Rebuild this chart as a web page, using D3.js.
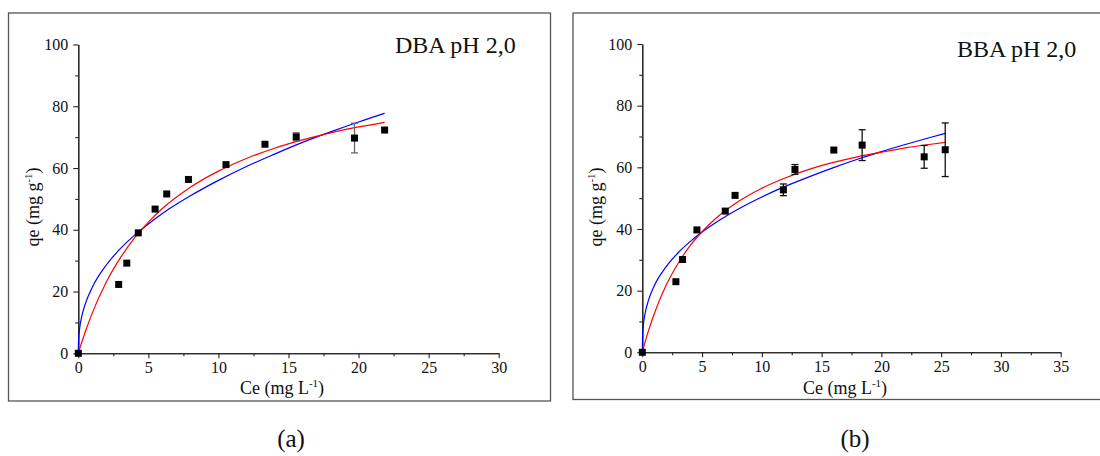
<!DOCTYPE html>
<html>
<head>
<meta charset="utf-8">
<script src="https://cdn.jsdelivr.net/npm/d3@7"></script>
<style>
  body { margin: 0; background: #fff; }
  text { font-family: "Liberation Serif", "Times New Roman", serif; fill: #111; }
</style>
</head>
<body>
<div id="chart"></div>
<script>
/* data */
// (a) DBA pH 2,0
var dbaCe  = [0, 2.88, 3.46, 4.28, 5.48, 6.31, 7.86, 10.54, 13.32, 15.55, 19.71, 21.86];
var dbaQe  = [0, 22.3, 29.2, 39.0, 46.7, 51.6, 56.3, 61.1, 67.7, 70.1, 69.7, 72.3];
var dbaErr = [0, 0, 0, 0, 0, 0, 0, 0, 0, 1.3, 4.8, 0];
var dbaFitCe   = [0, 0.02, 0.1, 0.25, 0.5, 1, 2, 3, 4, 5, 6, 8, 10, 12, 14, 16, 18, 20, 21.86];
var dbaLangQe  = [0, 0.3, 1.5, 3.65, 7.0, 13.1, 23.1, 30.9, 37.3, 42.5, 46.9, 53.8, 59.0, 63.1, 66.4, 69.1, 71.4, 73.3, 74.8];
var dbaFreuQe  = [0, 4.2, 8.2, 12.0, 16.0, 21.4, 28.6, 33.9, 38.2, 41.9, 45.3, 51.0, 56.0, 60.5, 64.5, 68.3, 71.7, 74.9, 77.7];

// (b) BBA pH 2,0
var bbaCe  = [0, 2.81, 3.37, 4.57, 6.94, 7.76, 11.80, 12.77, 16.02, 18.39, 23.58, 25.34];
var bbaQe  = [0, 22.9, 30.1, 39.7, 45.8, 50.9, 52.7, 59.3, 65.6, 67.2, 63.4, 65.7];
var bbaErr = [0, 0, 0, 0, 0, 0, 1.9, 1.6, 0, 5.0, 3.7, 8.7];
var bbaFitCe   = [0, 0.02, 0.1, 0.25, 0.5, 1, 2, 3, 4, 5, 6, 8, 10, 12, 14, 16, 18, 20, 22, 24, 25.34];
var bbaLangQe  = [0, 0.3, 1.45, 3.54, 6.78, 12.5, 21.8, 28.9, 34.6, 39.1, 42.9, 48.8, 53.2, 56.6, 59.4, 61.6, 63.4, 64.9, 66.3, 67.4, 68.1];
var bbaFreuQe  = [0, 5.0, 9.2, 12.9, 16.7, 21.6, 27.8, 32.3, 35.9, 39.0, 41.7, 46.4, 50.4, 53.9, 57.0, 59.9, 62.6, 65.1, 67.4, 69.6, 71.0];

var yTicks   = [0, 20, 40, 60, 80, 100];
var yMinor   = [10, 30, 50, 70, 90];
var xTicksA  = [0, 5, 10, 15, 20, 25, 30];
var xTicksB  = [0, 5, 10, 15, 20, 25, 30, 35];

var W = 1100, H = 456;
var svg = d3.select("#chart").append("svg")
  .attr("width", W).attr("height", H);

function drawPanel(p) {
  var g = svg.append("g");

  // frame around the panel
  g.append("rect")
    .attr("x", p.frame[0]).attr("y", p.frame[1])
    .attr("width", p.frame[2]).attr("height", p.frame[3])
    .attr("fill", "none").attr("stroke", "#555").attr("stroke-width", 1.3);

  var x = d3.scaleLinear().domain([0, p.xMax]).range([p.x0, p.x1]);
  var y = d3.scaleLinear().domain([0, 100]).range([p.y0, p.y1]);

  var minorX = d3.range(2.5, p.xMax, 5);

  // minor ticks
  g.append("g").attr("transform", "translate(0," + p.y0 + ")")
    .call(d3.axisBottom(x).tickValues(minorX).tickSize(3).tickSizeOuter(0).tickFormat(""));
  g.append("g").attr("transform", "translate(" + p.x0 + ",0)")
    .call(d3.axisLeft(y).tickValues(yMinor).tickSize(3).tickSizeOuter(0).tickFormat(""));

  // major ticks + labels
  g.append("g").attr("transform", "translate(0," + p.y0 + ")")
    .call(d3.axisBottom(x).tickValues(p.xTicks).tickSize(5).tickSizeOuter(0).tickPadding(3));
  g.append("g").attr("transform", "translate(" + p.x0 + ",0)")
    .call(d3.axisLeft(y).tickValues(yTicks).tickSize(5).tickSizeOuter(0).tickPadding(5));

  g.selectAll(".domain, .tick line").attr("stroke", "#222").attr("stroke-width", 1.1);
  g.selectAll(".tick text")
    .attr("font-family", "Liberation Serif, Times New Roman, serif")
    .attr("font-size", "16px").attr("fill", "#222");

  // fitted curves
  var line = d3.line()
    .x(function(d) { return x(d[0]); })
    .y(function(d) { return y(d[1]); })
    .curve(d3.curveMonotoneX);

  g.append("path")
    .attr("d", line(p.fitCe.map(function(c, i) { return [c, p.freu[i]]; })))
    .attr("fill", "none").attr("stroke", "#0000ff").attr("stroke-width", 1.2);
  g.append("path")
    .attr("d", line(p.fitCe.map(function(c, i) { return [c, p.lang[i]]; })))
    .attr("fill", "none").attr("stroke", "#ff0000").attr("stroke-width", 1.2);

  // error bars
  var pts = p.ce.map(function(c, i) { return {c: c, q: p.qe[i], e: p.err[i]}; });
  var eb = g.append("g").selectAll("g").data(pts.filter(function(d) { return d.e > 0; })).enter().append("g")
    .attr("stroke", p.errColor).attr("stroke-width", 1.3);
  eb.append("line")
    .attr("x1", function(d) { return x(d.c); }).attr("x2", function(d) { return x(d.c); })
    .attr("y1", function(d) { return y(d.q + d.e); }).attr("y2", function(d) { return y(d.q - d.e); });
  eb.append("line")
    .attr("x1", function(d) { return x(d.c) - 3.5; }).attr("x2", function(d) { return x(d.c) + 3.5; })
    .attr("y1", function(d) { return y(d.q + d.e); }).attr("y2", function(d) { return y(d.q + d.e); });
  eb.append("line")
    .attr("x1", function(d) { return x(d.c) - 3.5; }).attr("x2", function(d) { return x(d.c) + 3.5; })
    .attr("y1", function(d) { return y(d.q - d.e); }).attr("y2", function(d) { return y(d.q - d.e); });

  // square markers
  g.append("g").selectAll("rect").data(pts).enter().append("rect")
    .attr("x", function(d) { return x(d.c) - 3.5; })
    .attr("y", function(d) { return y(d.q) - 3.5; })
    .attr("width", 7).attr("height", 7)
    .attr("fill", "#000");

  // axis titles
  var xt = g.append("text")
    .attr("x", p.xTitle[0]).attr("y", p.xTitle[1])
    .attr("text-anchor", "middle").attr("font-size", "18px");
  xt.append("tspan").text("Ce (mg L");
  xt.append("tspan").attr("dy", -7).attr("font-size", "11px").text("-1");
  xt.append("tspan").attr("dy", 7).text(")");

  var yt = g.append("text")
    .attr("transform", "translate(" + p.yTitle[0] + "," + p.yTitle[1] + ") rotate(-90)")
    .attr("text-anchor", "middle").attr("font-size", "18px");
  yt.append("tspan").text("qe (mg g");
  yt.append("tspan").attr("dy", -7).attr("font-size", "11px").text("-1");
  yt.append("tspan").attr("dy", 7).text(")");

  // panel annotation
  g.append("text")
    .attr("x", p.note[0]).attr("y", p.note[1])
    .attr("font-size", "24px").text(p.noteText);

  // sub label
  svg.append("text")
    .attr("x", p.sub[0]).attr("y", p.sub[1])
    .attr("text-anchor", "middle").attr("font-size", "25px")
    .text(p.subText);
}

drawPanel({
  frame: [8.5, 13, 542, 388],
  x0: 78.3, x1: 498.7, y0: 353.3, y1: 44.5, xMax: 30, xTicks: xTicksA,
  ce: dbaCe, qe: dbaQe, err: dbaErr, errColor: "#666",
  fitCe: dbaFitCe, lang: dbaLangQe, freu: dbaFreuQe,
  xTitle: [282, 394], yTitle: [39, 207],
  note: [395, 53], noteText: "DBA pH 2,0",
  sub: [291, 447], subText: "(a)"
});

drawPanel({
  frame: [573, 13, 540, 386.5],
  x0: 642.3, x1: 1060.7, y0: 352.3, y1: 44, xMax: 35, xTicks: xTicksB,
  ce: bbaCe, qe: bbaQe, err: bbaErr, errColor: "#111",
  fitCe: bbaFitCe, lang: bbaLangQe, freu: bbaFreuQe,
  xTitle: [845, 394], yTitle: [602, 207],
  note: [957, 57], noteText: "BBA pH 2,0",
  sub: [855, 447], subText: "(b)"
});
</script>
</body>
</html>
